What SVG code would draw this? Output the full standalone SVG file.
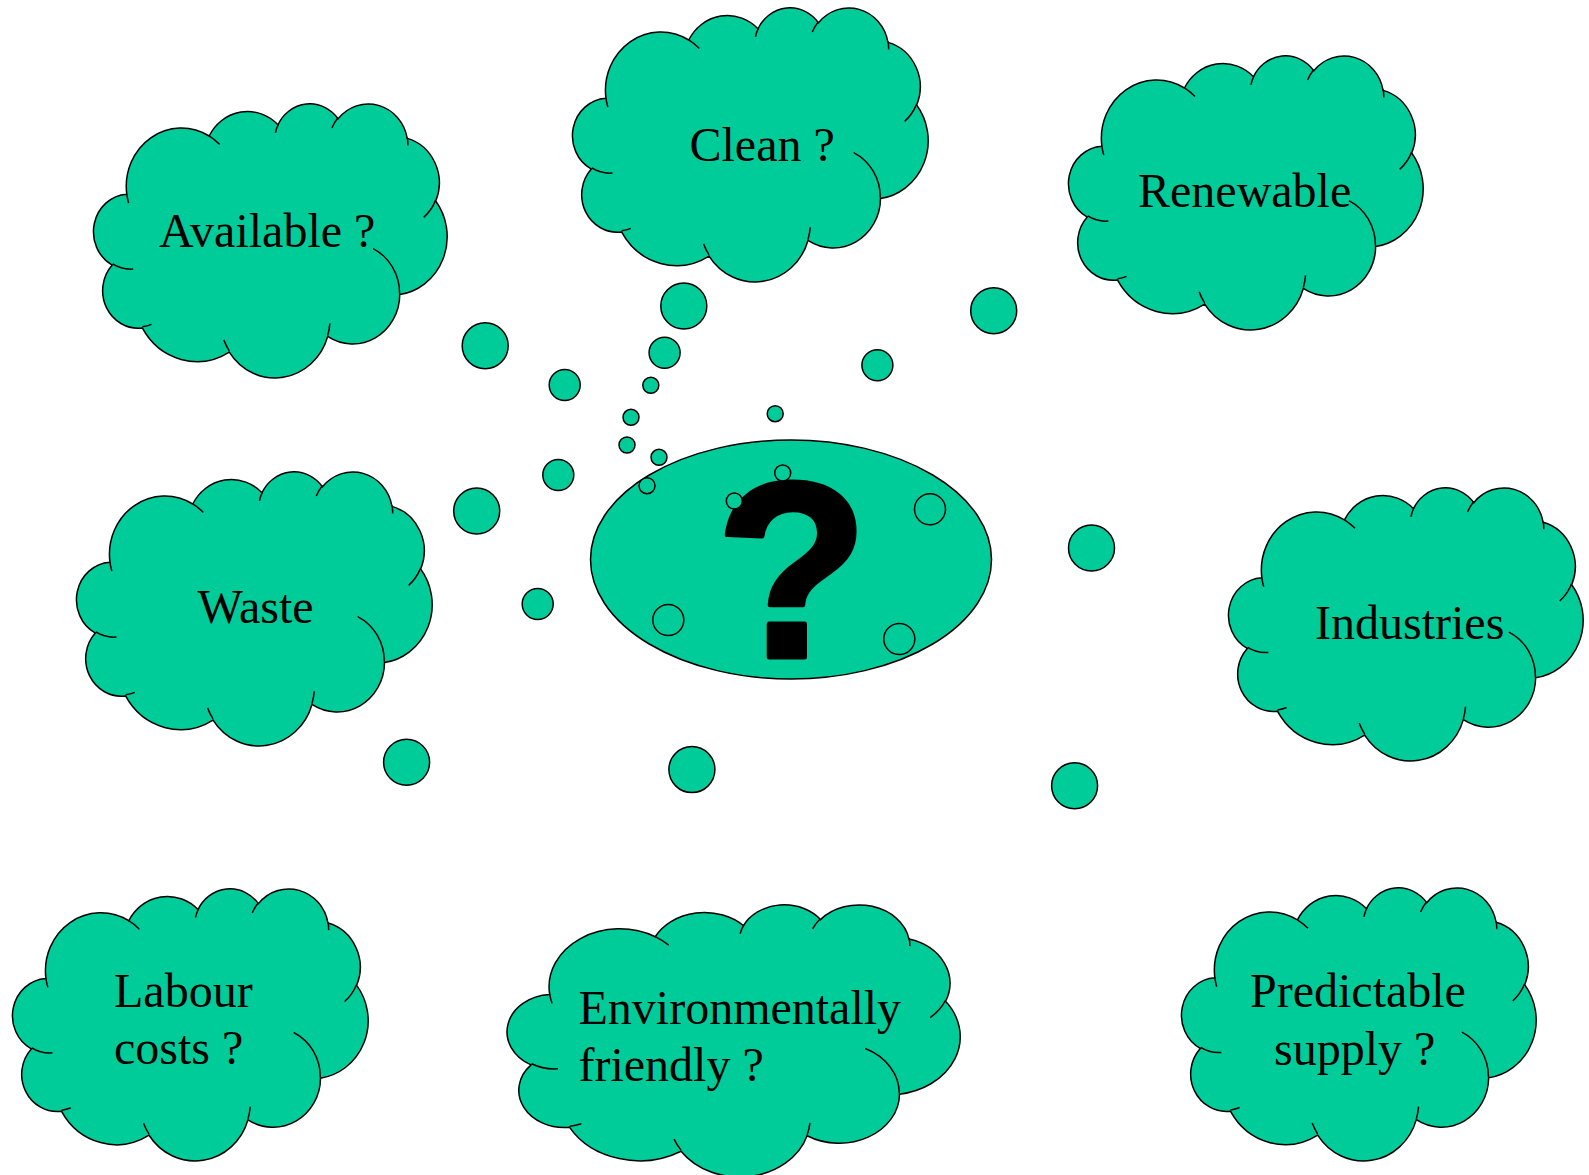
<svg xmlns="http://www.w3.org/2000/svg" width="1589" height="1175" viewBox="0 0 1589 1175">
  <style>
    .fill { fill: #00CC99; stroke: #000; stroke-width: 1.5; }
    .crease { fill: none; stroke: #000; stroke-width: 1.5; }
    .ns { vector-effect: non-scaling-stroke; }
    .label { font-family: "Liberation Serif", "Times New Roman", serif; font-size: 48px; fill: #000; }
    .qmark { font-family: "Liberation Sans", Arial, sans-serif; font-weight: bold; font-size: 250px; fill: #000; stroke: #000; stroke-width: 5; stroke-linejoin: round; }
  </style>
  <defs>
    <!-- cloud outline and its inner crease arcs, drawn in a 43200 x 43200 box -->
    <g id="cloud">
      <path class="fill ns" d="M3900 14370 A6753 9190 0 0 1 14005 5202 A5333 7267 0 0 1 22456 3431 A4365 5945 0 0 1 29833 2479 A4857 6595 0 0 1 38318 5574 A5333 7273 0 0 1 41818 15458 A6775 9220 0 0 1 37405 30202 A5785 7867 0 0 1 28556 36811 A6752 9215 0 0 1 16481 39265 A7720 10543 0 0 1 5805 35469 A4360 5918 0 0 1 2112 25551 A4345 5945 0 0 1 3900 14370 Z"/>
      <path class="crease ns" d="M4693 26177 A4345 5945 0 0 1 2159 25379 M6928 34899 A4360 5918 0 0 1 5820 35281 M16478 39090 A6752 9215 0 0 1 15809 37348 M28827 34751 A6752 9215 0 0 1 28560 36660 M34129 22954 A5785 7867 0 0 1 37381 30090 M41798 15354 A5333 7273 0 0 1 40350 18030 M38324 5426 A4857 6595 0 0 1 38400 6690 M29078 3952 A4857 6595 0 0 1 29820 2340 M22141 4720 A4365 5945 0 0 1 22500 3331 M14000 5192 A6753 9190 0 0 1 15299 6539 M4127 15789 A6753 9190 0 0 1 3900 14371"/>
    </g>
  </defs>

  <rect width="1589" height="1175" fill="#fff"/>

  <!-- central question -->
  <g id="question">
    <ellipse class="fill" cx="791" cy="559.5" rx="200.5" ry="119.5"/>
    <text class="qmark" x="792" y="657" text-anchor="middle">?</text>
  </g>

  <!-- thought clouds, each with its trail of bubbles -->
  <g id="available">
    <use href="#cloud" transform="translate(95 103) scale(0.0081481 0.0063426)"/>
    <text class="label" x="159" y="247">Available ?</text>
    <circle class="fill" cx="485.2" cy="345.7" r="23"/>
    <circle class="fill" cx="564.7" cy="385" r="15.5"/>
    <circle class="fill" cx="631" cy="417.3" r="8"/>
  </g>

  <g id="clean">
    <use href="#cloud" transform="translate(574 7) scale(0.0081944 0.0063426)"/>
    <text class="label" x="689.5" y="160.7">Clean ?</text>
    <circle class="fill" cx="683.8" cy="306" r="23"/>
    <circle class="fill" cx="664.6" cy="352.7" r="15.5"/>
    <circle class="fill" cx="650.8" cy="385.3" r="8"/>
  </g>

  <g id="renewable">
    <use href="#cloud" transform="translate(1070 55) scale(0.0081713 0.0063426)"/>
    <text class="label" x="1138" y="206.7">Renewable</text>
    <circle class="fill" cx="993.7" cy="310.7" r="23"/>
    <circle class="fill" cx="877.4" cy="365.3" r="15.5"/>
    <circle class="fill" cx="775.2" cy="413.7" r="8"/>
  </g>

  <g id="waste">
    <use href="#cloud" transform="translate(78 471) scale(0.0081944 0.0063426)"/>
    <text class="label" x="197.5" y="623">Waste</text>
    <circle class="fill" cx="476.7" cy="511" r="23"/>
    <circle class="fill" cx="558.3" cy="475" r="15.5"/>
    <circle class="fill" cx="627" cy="445" r="8"/>
  </g>

  <g id="industries">
    <use href="#cloud" transform="translate(1230 487) scale(0.0081713 0.0063194)"/>
    <text class="label" x="1315" y="639.3">Industries</text>
    <circle class="fill" cx="1091.5" cy="548" r="23"/>
    <circle class="fill" cx="930" cy="509.3" r="15.5"/>
    <circle class="fill" cx="782.7" cy="473" r="8"/>
  </g>

  <g id="labour">
    <use href="#cloud" transform="translate(14 888) scale(0.0081944 0.0062963)"/>
    <text class="label" x="114" y="1007.3">Labour</text>
    <text class="label" x="114" y="1064.3">costs ?</text>
    <circle class="fill" cx="406.6" cy="762.2" r="23"/>
    <circle class="fill" cx="537.7" cy="604" r="15.5"/>
    <circle class="fill" cx="659" cy="457.3" r="8"/>
  </g>

  <g id="environmentally-friendly">
    <use href="#cloud" transform="translate(509 904) scale(0.0104398 0.0062963)"/>
    <text class="label" x="578.5" y="1024">Environmentally</text>
    <text class="label" x="578.5" y="1081.3">friendly ?</text>
    <circle class="fill" cx="691.9" cy="769.6" r="23"/>
    <circle class="fill" cx="668.3" cy="620" r="15.5"/>
    <circle class="fill" cx="647" cy="485.7" r="8"/>
  </g>

  <g id="predictable-supply">
    <use href="#cloud" transform="translate(1183 887) scale(0.0081713 0.0063194)"/>
    <text class="label" x="1250" y="1007.3">Predictable</text>
    <text class="label" x="1274" y="1065">supply ?</text>
    <circle class="fill" cx="1074.6" cy="785.7" r="23"/>
    <circle class="fill" cx="899.3" cy="639" r="15.5"/>
    <circle class="fill" cx="734.3" cy="501" r="8"/>
  </g>

  <g id="connectors"/>
</svg>
